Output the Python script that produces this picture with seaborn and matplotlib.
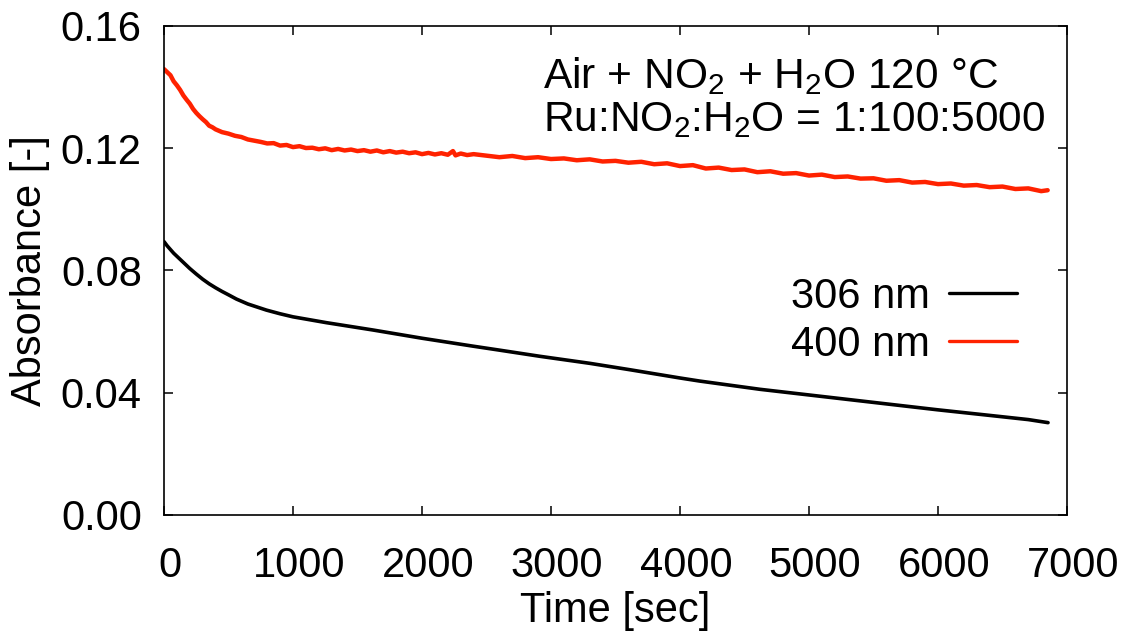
import matplotlib
matplotlib.use("Agg")
import matplotlib.pyplot as plt
import matplotlib.transforms as mtransforms
import seaborn as sns
import pandas as pd

# 306 nm trace (smooth)
t_306 = [0, 25, 50, 75, 100, 150, 200, 250, 300, 350, 400, 450, 500, 562, 650,
         794, 900, 1000, 1258, 1619, 2000, 2397, 2602, 2913, 3300, 3612, 4000,
         4152, 4620, 4990, 5442, 5997, 6350, 6700, 6853]
a_306 = [0.0894, 0.0880, 0.0868, 0.0856, 0.0846, 0.0826, 0.0806, 0.0788, 0.0771,
         0.0756, 0.0743, 0.0731, 0.0720, 0.0706, 0.0690, 0.0670, 0.0658, 0.0648,
         0.0629, 0.0605, 0.0578, 0.0552, 0.0539, 0.0519, 0.0496, 0.0475, 0.0448,
         0.0438, 0.0411, 0.0393, 0.0371, 0.0344, 0.0328, 0.0312, 0.0302]

# 400 nm trace (noisy)
t_400 = [0, 25, 50, 75, 100, 125, 150, 175, 200, 225, 250, 275, 300, 325, 350,
         375, 400, 450, 500, 550, 600, 650, 700, 750, 800, 850, 900, 950, 1000,
         1050, 1100, 1150, 1200, 1250, 1300, 1350, 1400, 1450, 1500, 1550, 1600,
         1650, 1700, 1750, 1800, 1850, 1900, 1950, 2000, 2050, 2100, 2150, 2200,
         2240, 2260, 2300, 2350, 2400, 2500, 2600, 2700, 2800, 2900, 3000, 3100,
         3200, 3300, 3400, 3500, 3600, 3700, 3800, 3900, 4000, 4100, 4200, 4300,
         4400, 4500, 4600, 4700, 4800, 4900, 5000, 5100, 5200, 5300, 5400, 5500,
         5600, 5700, 5800, 5900, 6000, 6100, 6200, 6300, 6400, 6500, 6600, 6700,
         6800, 6850]
a_400 = [0.1458, 0.1448, 0.1438, 0.1418, 0.1405, 0.1390, 0.1372, 0.1358, 0.1345,
         0.1328, 0.1315, 0.1304, 0.1294, 0.1285, 0.1273, 0.1268, 0.1261, 0.1252,
         0.1247, 0.1240, 0.1236, 0.1228, 0.1224, 0.1220, 0.1215, 0.1216, 0.1208,
         0.1210, 0.1203, 0.1206, 0.1200, 0.1201, 0.1196, 0.1199, 0.1193, 0.1197,
         0.1192, 0.1195, 0.1190, 0.1193, 0.1188, 0.1192, 0.1186, 0.1190, 0.1185,
         0.1188, 0.1183, 0.1186, 0.1180, 0.1184, 0.1179, 0.1183, 0.1178, 0.1190,
         0.1176, 0.1182, 0.1177, 0.1180, 0.1175, 0.1170, 0.1174, 0.1167, 0.1170,
         0.1164, 0.1166, 0.1160, 0.1163, 0.1156, 0.1158, 0.1152, 0.1155, 0.1147,
         0.1150, 0.1141, 0.1144, 0.1133, 0.1136, 0.1128, 0.1130, 0.1121, 0.1124,
         0.1116, 0.1118, 0.1110, 0.1113, 0.1105, 0.1107, 0.1100, 0.1101, 0.1093,
         0.1095, 0.1087, 0.1089, 0.1082, 0.1084, 0.1077, 0.1079, 0.1072, 0.1074,
         0.1066, 0.1068, 0.1059, 0.1062]

x_ticks = [0, 1000, 2000, 3000, 4000, 5000, 6000, 7000]
y_ticks = [0.00, 0.04, 0.08, 0.12, 0.16]

sns.set_theme(style="ticks")
plt.rcParams['font.family'] = ['Liberation Sans', 'DejaVu Sans']
plt.rcParams['mathtext.fontset'] = 'custom'
plt.rcParams['mathtext.rm'] = 'Liberation Sans'
plt.rcParams['mathtext.it'] = 'Liberation Sans:italic'
plt.rcParams['text.color'] = 'black'
plt.rcParams['axes.labelcolor'] = 'black'

FS = 30
fig = plt.figure(figsize=(11.28, 6.37), dpi=100)
ax = fig.add_axes([164 / 1128, 1 - 515 / 637, 903 / 1128, 489.3 / 637])

df_306 = pd.DataFrame({'Time': t_306, 'Absorbance': a_306})
df_400 = pd.DataFrame({'Time': t_400, 'Absorbance': a_400})
sns.lineplot(data=df_306, x='Time', y='Absorbance', color='black', lw=2.6,
             label='306 nm', ax=ax, estimator=None, sort=False)
sns.lineplot(data=df_400, x='Time', y='Absorbance', color='#ff2200', lw=3.2,
             label='400 nm', ax=ax, estimator=None, sort=False)

ax.set_xlim(0, 7000)
ax.set_ylim(0, 0.16)
ax.set_xticks(x_ticks)
ax.set_yticks(y_ticks)
ax.set_yticklabels([f'{v:.2f}' for v in y_ticks])
ax.tick_params(direction='in', length=6.5, width=1.1, top=True, right=True,
               labelsize=FS, colors='black')
ax.tick_params(axis='x', pad=22)
ax.tick_params(axis='y', pad=16)
for s in ax.spines.values():
    s.set_linewidth(1.2)
    s.set_color('black')

shift = mtransforms.ScaledTranslation(6 / 100, 0, fig.dpi_scale_trans)
for lbl in ax.get_xticklabels():
    lbl.set_transform(lbl.get_transform() + shift)

ax.set_xlabel('Time [sec]', fontsize=FS)
ax.set_ylabel('Absorbance [-]', fontsize=FS)
ax.xaxis.set_label_coords(0.5, -0.155)
ax.yaxis.set_label_coords(-0.126, 0.5)

ax.text(0.42, 0.94, 'Air + NO$_2$ + H$_2$O 120 °C', transform=ax.transAxes,
        fontsize=30.6, ha='left', va='top')
ax.text(0.42, 0.848, 'Ru:NO$_2$:H$_2$O = 1:100:5000', transform=ax.transAxes,
        fontsize=30.6, ha='left', va='top')

leg = ax.legend(loc='upper right', bbox_to_anchor=(0.9446, 0.487), frameon=False,
                markerfirst=False, fontsize=FS, handlelength=1.63, handletextpad=0.45,
                labelspacing=0.2, borderpad=0, borderaxespad=0)
for h in leg.get_lines():
    h.set_linewidth(2.4)

fig.savefig('out.png', dpi=100)
